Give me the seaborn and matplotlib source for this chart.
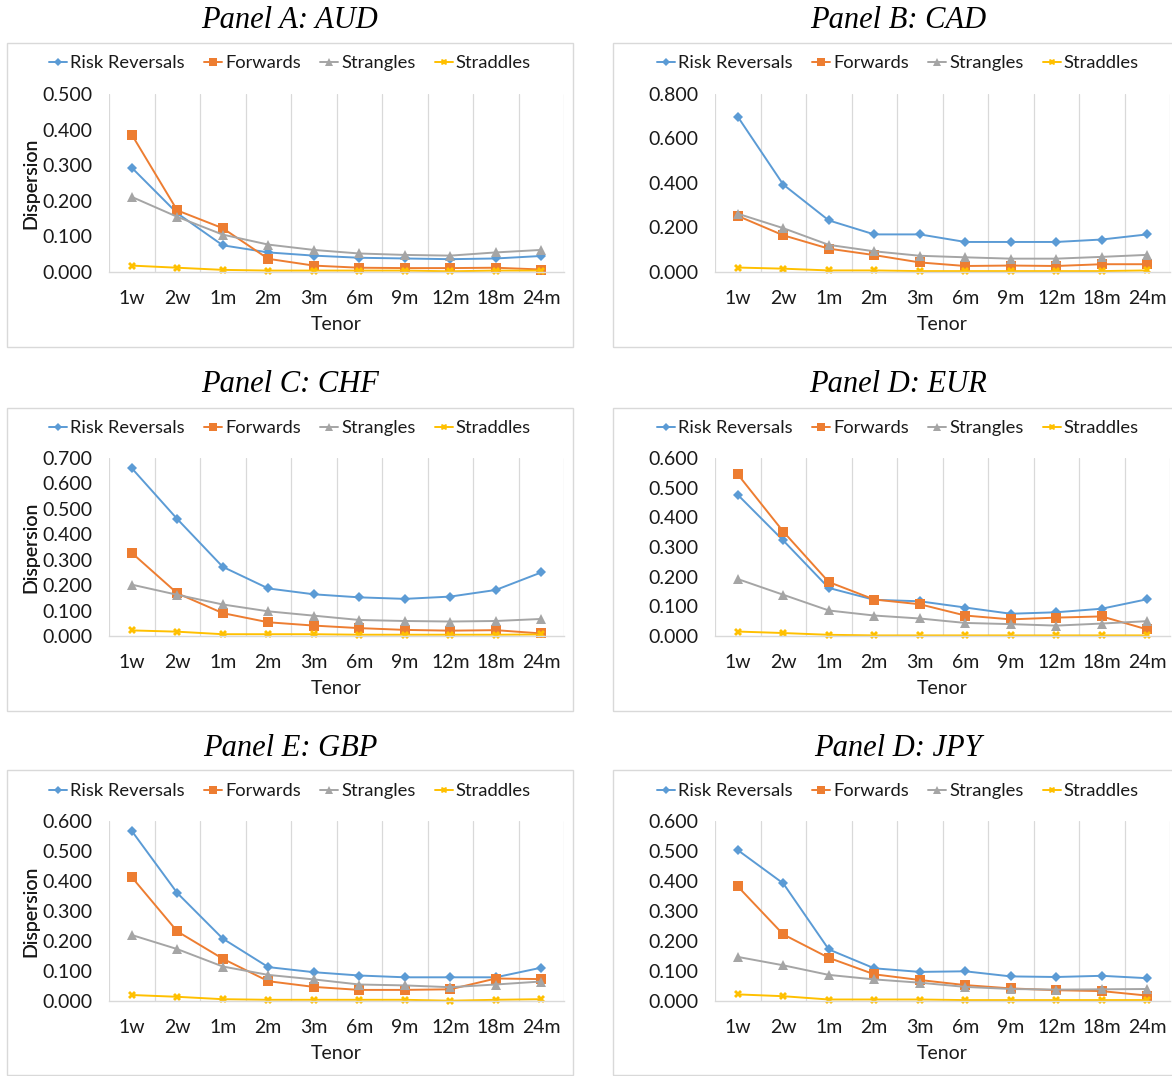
import matplotlib
matplotlib.use('Agg')
import matplotlib.pyplot as plt
import seaborn as sns
import numpy as np
from matplotlib.patches import Rectangle
from matplotlib.ticker import FuncFormatter, MultipleLocator

sns.set_theme(style='white')
plt.rcParams['font.family'] = ['Lato', 'DejaVu Sans']

tenors = ['1w', '2w', '1m', '2m', '3m', '6m', '9m', '12m', '18m', '24m']
series_names = ['Risk Reversals', 'Forwards', 'Strangles', 'Straddles']
series_colors = ['#5B9BD5', '#ED7D31', '#A5A5A5', '#FFC000']
series_markers = ['D', 's', '^', 'X']
series_msize = [5.5, 7.5, 7, 6]

# values
aud_rr = [0.293, 0.165, 0.075, 0.055, 0.046, 0.040, 0.038, 0.036, 0.038, 0.045]
aud_fwd = [0.386, 0.173, 0.123, 0.037, 0.018, 0.012, 0.011, 0.011, 0.012, 0.007]
aud_str = [0.211, 0.155, 0.105, 0.077, 0.062, 0.052, 0.048, 0.046, 0.055, 0.062]
aud_std = [0.018, 0.012, 0.006, 0.004, 0.004, 0.004, 0.004, 0.002, 0.004, 0.004]

cad_rr = [0.698, 0.393, 0.232, 0.169, 0.169, 0.135, 0.135, 0.135, 0.146, 0.169]
cad_fwd = [0.252, 0.165, 0.105, 0.076, 0.043, 0.027, 0.029, 0.027, 0.035, 0.035]
cad_str = [0.262, 0.197, 0.122, 0.093, 0.073, 0.066, 0.060, 0.060, 0.068, 0.077]
cad_std = [0.020, 0.015, 0.007, 0.007, 0.004, 0.004, 0.004, 0.004, 0.004, 0.007]

chf_rr = [0.660, 0.460, 0.272, 0.187, 0.164, 0.152, 0.146, 0.155, 0.181, 0.250]
chf_fwd = [0.327, 0.168, 0.090, 0.054, 0.041, 0.031, 0.024, 0.021, 0.023, 0.010]
chf_str = [0.202, 0.162, 0.124, 0.097, 0.080, 0.063, 0.059, 0.057, 0.059, 0.067]
chf_std = [0.022, 0.017, 0.007, 0.007, 0.007, 0.005, 0.005, 0.005, 0.005, 0.006]

eur_rr = [0.476, 0.322, 0.162, 0.122, 0.117, 0.096, 0.075, 0.080, 0.092, 0.124]
eur_fwd = [0.545, 0.352, 0.182, 0.123, 0.107, 0.069, 0.056, 0.062, 0.066, 0.022]
eur_str = [0.192, 0.139, 0.086, 0.069, 0.059, 0.044, 0.040, 0.035, 0.042, 0.050]
eur_std = [0.015, 0.010, 0.004, 0.002, 0.002, 0.002, 0.002, 0.002, 0.002, 0.002]

gbp_rr = [0.567, 0.360, 0.208, 0.113, 0.096, 0.085, 0.079, 0.079, 0.079, 0.111]
gbp_fwd = [0.413, 0.232, 0.141, 0.066, 0.047, 0.037, 0.037, 0.039, 0.075, 0.073]
gbp_str = [0.220, 0.173, 0.115, 0.087, 0.072, 0.055, 0.052, 0.046, 0.055, 0.065]
gbp_std = [0.020, 0.014, 0.006, 0.004, 0.004, 0.004, 0.004, 0.001, 0.004, 0.006]

jpy_rr = [0.503, 0.392, 0.172, 0.109, 0.097, 0.099, 0.082, 0.080, 0.084, 0.076]
jpy_fwd = [0.382, 0.222, 0.144, 0.089, 0.070, 0.053, 0.042, 0.036, 0.033, 0.018]
jpy_str = [0.147, 0.119, 0.087, 0.072, 0.061, 0.047, 0.040, 0.038, 0.039, 0.040]
jpy_std = [0.022, 0.016, 0.005, 0.005, 0.005, 0.003, 0.003, 0.003, 0.003, 0.003]

panel_titles = ['Panel A: AUD', 'Panel B: CAD', 'Panel C: CHF',
                'Panel D: EUR', 'Panel E: GBP', 'Panel D: JPY']
panel_ymax = [0.5, 0.8, 0.7, 0.6, 0.6, 0.6]
panel_ystep = [0.1, 0.2, 0.1, 0.1, 0.1, 0.1]
panel_data = [
    [aud_rr, aud_fwd, aud_str, aud_std],
    [cad_rr, cad_fwd, cad_str, cad_std],
    [chf_rr, chf_fwd, chf_str, chf_std],
    [eur_rr, eur_fwd, eur_str, eur_std],
    [gbp_rr, gbp_fwd, gbp_str, gbp_std],
    [jpy_rr, jpy_fwd, jpy_str, jpy_std],
]

W, H = 1172, 1076
fig = plt.figure(figsize=(W / 100, H / 100), dpi=100)

# pixel layout
col_axes_x = [(109, 564), (715, 1170)]
col_box_x = [(7, 573), (613, 1183)]
row_axes_y = [(94, 272), (458, 636), (821, 1001)]
row_box_y = [(43, 347), (408, 711), (770, 1075)]
row_title_y = [20, 384, 748]
row_legend_y = [63, 428, 791]

text_color = '#1A1A1A'
grid_color = '#D9D9D9'

for i, title in enumerate(panel_titles):
    row, col = i // 2, i % 2
    ax0, ax1 = col_axes_x[col]
    ay0, ay1 = row_axes_y[row]
    ax = fig.add_axes([ax0 / W, 1 - ay1 / H, (ax1 - ax0) / W, (ay1 - ay0) / H])

    bx0, bx1 = col_box_x[col]
    by0, by1 = row_box_y[row]
    fig.add_artist(Rectangle((bx0 / W, 1 - by1 / H), (bx1 - bx0) / W, (by1 - by0) / H,
                             transform=fig.transFigure, fill=False,
                             edgecolor=grid_color, linewidth=1))
    cx = (bx0 + bx1) / 2
    fig.text(cx / W, 1 - row_title_y[row] / H, title, ha='center', va='center',
             fontsize=22, style='italic', family='Liberation Serif', color='black')

    for name, vals, c, m, ms in zip(series_names, panel_data[i], series_colors,
                                    series_markers, series_msize):
        sns.lineplot(x=tenors, y=vals, ax=ax, color=c, marker=m, markersize=ms,
                     markeredgewidth=0, linewidth=1.4, label=name, sort=False,
                     clip_on=False)

    ax.set_xlim(-0.5, 9.5)
    ax.set_ylim(0, panel_ymax[i])
    ax.yaxis.set_major_locator(MultipleLocator(panel_ystep[i]))
    ax.yaxis.set_major_formatter(FuncFormatter(lambda v, p: f'{v:.3f}'))
    ax.set_xticks(np.arange(-0.5, 10, 1), minor=True)
    ax.grid(False)
    ax.grid(which='minor', axis='x', color=grid_color, linewidth=0.9)
    ax.tick_params(which='both', length=0, labelsize=14, colors=text_color)
    ax.tick_params(axis='x', pad=13)
    ax.tick_params(axis='y', pad=12)
    sns.despine(ax=ax, left=True, right=True, top=True)
    ax.spines['bottom'].set_color(grid_color)
    ax.spines['bottom'].set_linewidth(1)

    h = ay1 - ay0
    w = ax1 - ax0
    ax.set_ylabel('Dispersion', fontsize=14, color=text_color)
    ax.yaxis.set_label_coords((39 - ax0) / w, 0.5)
    ax.set_xlabel('Tenor', fontsize=14, color=text_color)
    ax.xaxis.set_label_coords(0.5, -44 / h)

    ax.legend(loc='center', bbox_to_anchor=(cx / W, 1 - row_legend_y[row] / H),
              bbox_transform=fig.transFigure, ncol=4, frameon=False, fontsize=13.2,
              handlelength=1.0, handletextpad=0.15, columnspacing=1.05,
              borderaxespad=0, markerscale=0.8, labelcolor=text_color)

fig.savefig('out.png', dpi=100)
